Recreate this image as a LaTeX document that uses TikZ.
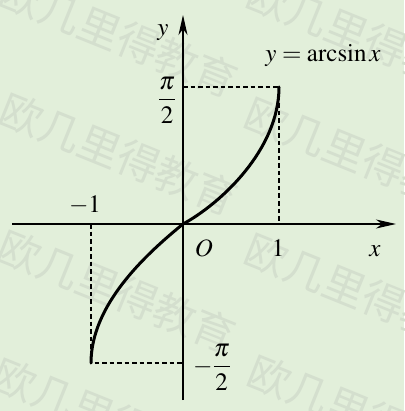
\documentclass[tikz,border=0pt]{standalone}
\usepackage{mathptmx}
\usepackage{fontspec}
\setmainfont{Liberation Serif}
\newfontfamily\wmfont{Noto Sans CJK SC}
\usetikzlibrary{arrows.meta}
\definecolor{bg}{RGB}{226,239,218}
\definecolor{wmcol}{RGB}{212,223,206}
\begin{document}
\begin{tikzpicture}[x=1pt,y=-1pt,
  font=\fontsize{25}{30}\selectfont,
  wmark/.style={text=wmcol,font=\wmfont\fontsize{42}{44}\selectfont,rotate=-22,inner sep=0pt},
  axis/.style={line width=1.3pt,-{Stealth[length=20pt,width=9pt,inset=6pt]}},
  guide/.style={line width=1.1pt,dash pattern=on 4.5pt off 3pt},
  curve/.style={line width=3pt,line cap=round,line join=round},
  lbl/.style={inner sep=0pt}]
\fill[bg] (0,0) rectangle (404,411);
\useasboundingbox (0,0) rectangle (404,411);
% watermark
\node[wmark] (w1) at (119,36) {欧几里得教育};
\node[wmark] (w2) at (119,154) {欧几里得教育};
\node[wmark] (w3) at (117,291) {欧几里得教育};
\node[wmark] (w4) at (112,419) {欧几里得教育};
\node[wmark] (w5) at (366,38) {欧几里得教育};
\node[wmark] (w6) at (364,158) {欧几里得教育};
\node[wmark] (w7) at (364,294) {欧几里得教育};
\node[wmark] (w8) at (367,416) {欧几里得教育};
% coordinates
\coordinate (xl) at (12,224);
\coordinate (xr) at (396,224);
\coordinate (yb) at (183,400);
\coordinate (yt) at (183,15);
\coordinate (orig) at (183,224);
\coordinate (ytop) at (183,87);
\coordinate (ybot) at (183,363);
\coordinate (ptop) at (279,87);
\coordinate (pbot) at (91,363);
\coordinate (xone) at (279,224);
\coordinate (xmone) at (91,224);
% guides
\draw[guide] (ytop) -- (ptop) -- (xone);
\draw[guide] (xmone) -- (pbot) -- (ybot);
% axes
\draw[axis] (xl) -- (xr);
\draw[axis] (yb) -- (yt);
% curve
\draw[curve] (pbot) .. controls (91,305) and (145,255) .. (orig)
  .. controls (220,204) and (279,150) .. (ptop);
% labels
\node[lbl] (ylab) at (163,33) {$y$};
\node[lbl] (flab) at (323,56) {$y=\arcsin x$};
\node[lbl] (pih) at (167,100) {$\displaystyle\frac{\pi}{2}$};
\node[lbl] (mpih) at (212,367) {$\displaystyle-\frac{\pi}{2}$};
\node[lbl] (mone) at (85,205) {$-1$};
\node[lbl] (olab) at (204,248) {$O$};
\node[lbl] (one) at (278,248) {$1$};
\node[lbl] (xlab) at (375,251) {$x$};
\end{tikzpicture}
\end{document}
